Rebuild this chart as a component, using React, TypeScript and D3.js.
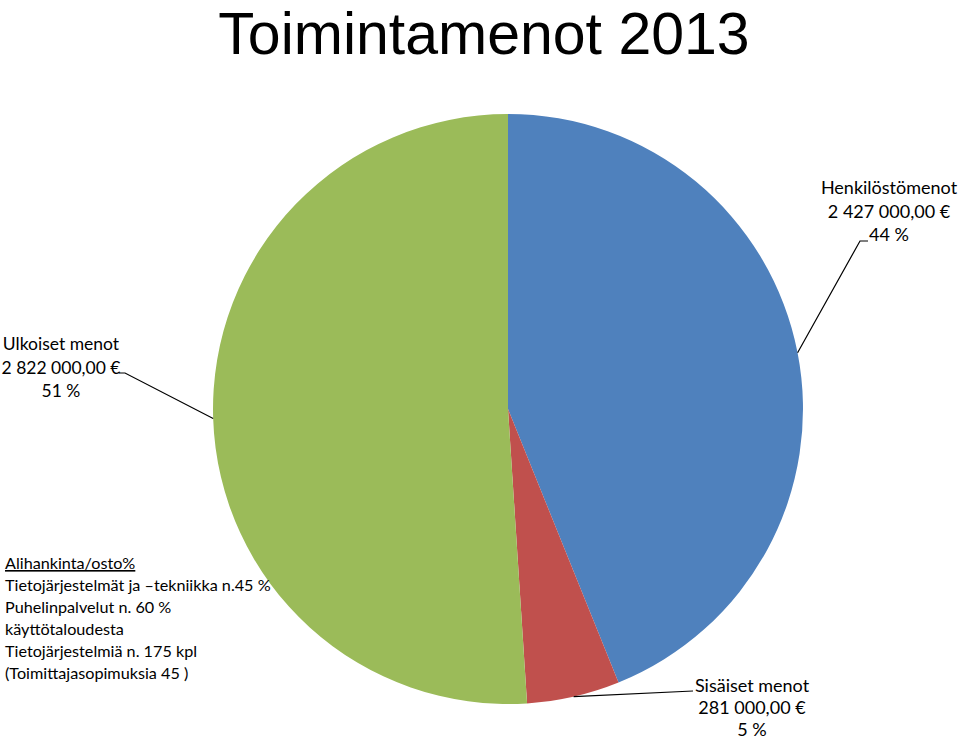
import React from "react";
import * as d3 from "d3";

const categories = ["Henkilöstömenot", "Sisäiset menot", "Ulkoiset menot"];
const amounts = [2427000, 281000, 2822000];
const amountLabels = ["2 427 000,00 €", "281 000,00 €", "2 822 000,00 €"];
const percentLabels = ["44 %", "5 %", "51 %"];
const colors = ["#4F81BD", "#C0504D", "#9BBB59"];
const noteLines = [
  "Alihankinta/osto%",
  "Tietojärjestelmät ja –tekniikka n.45 %",
  "Puhelinpalvelut n. 60 %",
  "käyttötaloudesta",
  "Tietojärjestelmiä n. 175 kpl",
  "(Toimittajasopimuksia 45 )",
];

const W = 959;
const H = 739;
const cx = 508;
const cy = 409;
const R = 295;
const labelFont = "Lato, 'Open Sans', sans-serif";

// label layout: text anchor x, first baseline, line step, and leader elbow/end
const labelLayout = [
  { x: 889, y: 194, step: 23.5, elbow: [860, 241], end: [868, 241] },
  { x: 752, y: 692, step: 22, elbow: [693, 691], end: [693, 691] },
  { x: 61, y: 350, step: 23.5, elbow: [125, 373], end: [119, 373] },
];

export default function App() {
  const data = categories.map((c, i) => ({ name: c, value: amounts[i], i }));
  const pie = d3.pie<any>().sort(null).value((d: any) => d.value).startAngle(0).endAngle(2 * Math.PI);
  const arcs = pie(data);
  const arcGen = d3.arc<any>().innerRadius(0).outerRadius(R);

  return (
    <svg width={W} height={H} style={{ position: "absolute", left: 0, top: 0, background: "#fff" }}>
      <text x={484} y={54} textAnchor="middle" fontFamily="'Liberation Sans', Arial, sans-serif" fontSize={59} fill="#000">
        Toimintamenot 2013
      </text>
      <g transform={`translate(${cx},${cy})`}>
        {arcs.map((a: any, i: number) => (
          <path key={i} d={arcGen(a) as string} fill={colors[i]} />
        ))}
      </g>
      {arcs.map((a: any, i: number) => {
        const mid = (a.startAngle + a.endAngle) / 2;
        const sx = cx + R * Math.sin(mid);
        const sy = cy - R * Math.cos(mid);
        const L = labelLayout[i];
        const lines = [categories[i], amountLabels[i], percentLabels[i]];
        return (
          <g key={i}>
            <polyline
              points={`${sx},${sy} ${L.elbow[0]},${L.elbow[1]} ${L.end[0]},${L.end[1]}`}
              fill="none"
              stroke="#000"
              strokeWidth={1.2}
            />
            {lines.map((t, j) => (
              <text key={j} x={L.x} y={L.y + j * L.step} textAnchor="middle" fontFamily={labelFont} fontSize={i === 2 ? 17.5 : 18} fill="#000">
                {t}
              </text>
            ))}
          </g>
        );
      })}
      {noteLines.map((t, j) => (
        <text
          key={j}
          x={5}
          y={569 + j * 22}
          fontFamily={labelFont}
          fontSize={16.2}
          fill="#000"
          textDecoration={j === 0 ? "underline" : undefined}
        >
          {t}
        </text>
      ))}
    </svg>
  );
}
